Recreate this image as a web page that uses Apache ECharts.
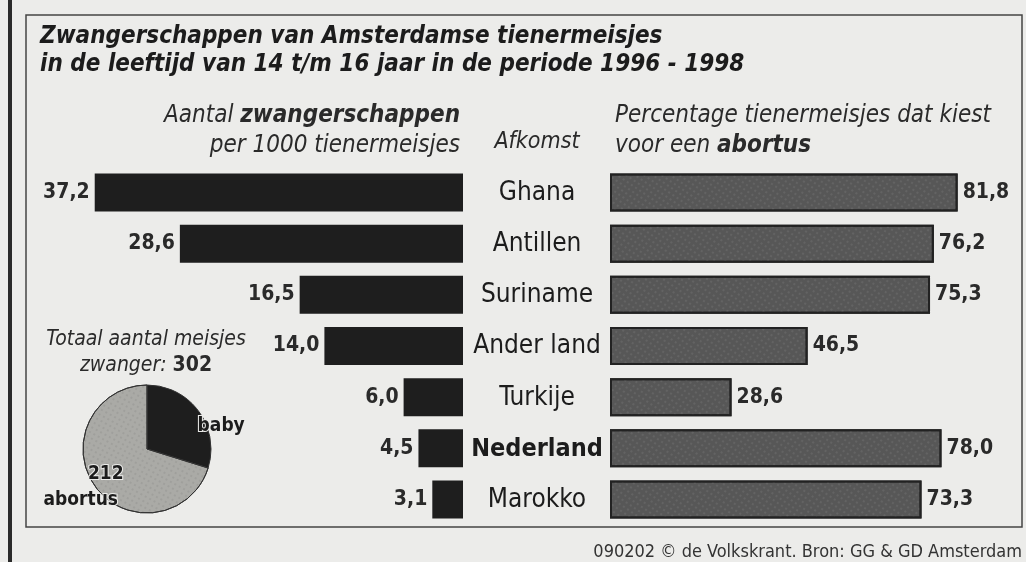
<!DOCTYPE html>
<html>
<head>
<meta charset="utf-8">
<title>Zwangerschappen van Amsterdamse tienermeisjes</title>
<script src="https://cdn.jsdelivr.net/npm/echarts@6/dist/echarts.min.js"></script>
<style>
	html, body { margin: 0; padding: 0; background: #ececea; }
	#chart { width: 1026px; height: 562px; }
</style>
</head>
<body>
<div id="chart"></div>
<script>
	// afkomst, van boven naar beneden
	const landen = ["Ghana", "Antillen", "Suriname", "Ander land", "Turkije", "Nederland", "Marokko"];
	// zwangerschappen per 1000 tienermeisjes
	const perDuizend = [37.2, 28.6, 16.5, 14.0, 6.0, 4.5, 3.1];
	// percentage dat kiest voor abortus
	const abortusPct = [81.8, 76.2, 75.3, 46.5, 28.6, 78.0, 73.3];
	// totaal 302 meisjes zwanger
	const pieNamen = ["baby", "abortus"];
	const pieWaarden = [90, 212];

	const font = "'DejaVu Sans Condensed', 'Liberation Sans Narrow', 'DejaVu Sans', sans-serif";
	const ink = "#1c1c1c";
	const papier = "#ececea";

	// komma als decimaalteken
	const nl = v => v.toFixed(1).replace(".", ",");

	let myChart = echarts.init(document.getElementById("chart"));

	let option = {
		backgroundColor: papier,
		animation: false,
		textStyle: { fontFamily: font, color: ink },
		grid: [
			{ left: 67, width: 396, top: 167, height: 358 },
			{ left: 610, width: 382.5, top: 167, height: 358 }
		],
		xAxis: [
			{ gridIndex: 0, type: "value", min: 0, max: 40, inverse: true, show: false },
			{ gridIndex: 1, type: "value", min: 0, max: 90, show: false }
		],
		yAxis: [
			{ gridIndex: 0, type: "category", data: landen, inverse: true, show: false },
			{ gridIndex: 1, type: "category", data: landen, inverse: true, show: false }
		],
		series: [
			{
				name: "per 1000",
				type: "bar",
				xAxisIndex: 0,
				yAxisIndex: 0,
				barWidth: 38,
				data: perDuizend,
				itemStyle: { color: "#1e1e1e" },
				label: {
					show: true,
					position: "left",
					distance: 5,
					formatter: p => nl(p.value),
					fontSize: 21,
					fontWeight: "bold",
					color: "#2a2a2a"
				}
			},
			{
				name: "abortus %",
				type: "bar",
				xAxisIndex: 1,
				yAxisIndex: 1,
				barWidth: 38,
				data: abortusPct,
				itemStyle: {
					color: "#575757",
					borderColor: "#222",
					borderWidth: 2,
					decal: {
						symbol: "rect",
						symbolSize: 0.6,
						dashArrayX: [2, 3],
						dashArrayY: [2, 3],
						rotation: 0.6,
						color: "rgba(190,190,190,0.4)"
					}
				},
				label: {
					show: true,
					position: "right",
					distance: 5,
					formatter: p => nl(p.value),
					fontSize: 21,
					fontWeight: "bold",
					color: "#2a2a2a"
				}
			},
			{
				name: "zwanger",
				type: "pie",
				center: [147, 449],
				radius: 64,
				startAngle: 90,
				clockwise: true,
				data: [
					{
						name: pieNamen[0], value: pieWaarden[0],
						label: { offset: [46, -2] }
					},
					{
						name: pieNamen[1], value: pieWaarden[1],
						label: { offset: [-38, 17] },
						itemStyle: {
							decal: {
								symbol: "rect",
								symbolSize: 0.6,
								dashArrayX: [2, 3],
								dashArrayY: [2, 3],
								rotation: 0.5,
								color: "rgba(70,70,70,0.35)"
							}
						}
					}
				],
				itemStyle: {
					borderColor: "#333",
					borderWidth: 1
				},
				color: ["#1e1e1e", "#aaaaa6"],
				labelLine: { show: false },
				label: {
					show: true,
					position: "inside",
					fontSize: 19,
					fontWeight: "bold",
					color: ink,
					textBorderColor: papier,
					textBorderWidth: 2,
					lineHeight: 26,
					formatter: p => p.name === "abortus" ? "{n|" + p.value + "}\n{a|" + p.name + "}" : p.name,
					rich: {
						n: { fontSize: 19, fontWeight: "bold", color: ink, lineHeight: 26, padding: [0, 0, 0, 50], textBorderColor: papier, textBorderWidth: 2 },
						a: { fontSize: 19, fontWeight: "bold", color: ink, lineHeight: 26, textBorderColor: papier, textBorderWidth: 2 }
					}
				}
			}
		],
		graphic: [
			// kader
			{ type: "rect", shape: { x: 8, y: 0, width: 4, height: 562 }, style: { fill: "#2a2a2a" } },
			{ type: "rect", shape: { x: 26, y: 15, width: 996, height: 512 }, style: { fill: "none", stroke: "#444", lineWidth: 1.5 } },
			// titel
			{
				type: "text", left: 40, top: 23,
				style: {
					text: "Zwangerschappen van Amsterdamse tienermeisjes\nin de leeftijd van 14 t/m 16 jaar in de periode 1996 - 1998",
					font: "italic bold 24px " + font, fill: ink, lineHeight: 28
				}
			},
			// kop links
			{
				type: "text", x: 460, y: 101,
				style: {
					text: "{b|Aantal }{bb|zwangerschappen}\n{b|per 1000 tienermeisjes}",
					align: "right", lineHeight: 30,
					rich: {
						b: { font: "italic 24px " + font, fill: "#2a2a2a" },
						bb: { font: "italic bold 24px " + font, fill: "#2a2a2a" }
					}
				}
			},
			{
				type: "text", x: 537, y: 131,
				style: { text: "Afkomst", align: "center", font: "italic 23px " + font, fill: "#2a2a2a" }
			},
			// kop rechts
			{
				type: "text", x: 615, y: 101,
				style: {
					text: "{b|Percentage tienermeisjes dat kiest}\n{b|voor een }{bb|abortus}",
					align: "left", lineHeight: 30,
					rich: {
						b: { font: "italic 24px " + font, fill: "#2a2a2a" },
						bb: { font: "italic bold 24px " + font, fill: "#2a2a2a" }
					}
				}
			},
			// afkomst labels
			...landen.map((l, i) => ({
				type: "text", x: 537, y: 193 + i * 51.2,
				style: {
					text: l, align: "center", verticalAlign: "middle",
					font: (l === "Nederland" ? "bold 25px " : "26px ") + font, fill: ink
				}
			})),
			// totaal
			{
				type: "text", x: 146, y: 327,
				style: {
					text: "{b|Totaal aantal meisjes}\n{b|zwanger: }{bb|302}",
					align: "center", lineHeight: 26,
					rich: {
						b: { font: "italic 21px " + font, fill: "#2a2a2a" },
						bb: { font: "bold 21px " + font, fill: "#2a2a2a" }
					}
				}
			},
			// bron
			{
				type: "text", right: 4, top: 543,
				style: { text: "090202 © de Volkskrant. Bron: GG & GD Amsterdam", font: "18px " + font, fill: "#333" }
			}
		]
	};

	myChart.setOption(option);
</script>
</body>
</html>
